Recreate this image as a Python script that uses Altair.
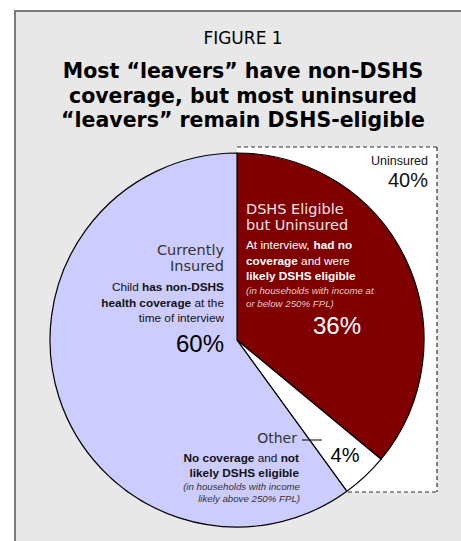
import altair as alt
import pandas as pd

# ---- data ----
categories = ["DSHS Eligible but Uninsured", "Other", "Currently Insured"]
shares = [36, 4, 60]
slice_colors = ["#800000", "#FFFFFF", "#CCCCFF"]

figure_label = "FIGURE 1"
title_lines = [
    "Most \u201cleavers\u201d have non-DSHS",
    "coverage, but most uninsured",
    "\u201cleavers\u201d remain DSHS-eligible",
]
uninsured_label = "Uninsured"
dshs_head = ["DSHS Eligible", "but Uninsured"]
# (text, bold?) segments per line
dshs_body = [
    [("At interview,", False), ("had no", True)],
    [("coverage", True), ("and were", False)],
    [("likely DSHS eligible", True)],
]
dshs_note = ["(in households with income at", "or below 250% FPL)"]
ins_head = ["Currently", "Insured"]
ins_body = [
    [("Child", False), ("has non-DSHS", True)],
    [("health coverage", True), ("at the", False)],
    [("time of interview", False)],
]
other_head = "Other"
other_body = [
    [("No coverage", True), ("and", False), ("not", True)],
    [("likely DSHS eligible", True)],
]
other_note = ["(in households with income", "likely above 250% FPL)"]

pie_df = pd.DataFrame({"cat": categories, "value": shares, "ord": [0, 1, 2]})
ONE = pd.DataFrame({"_": [0]})

WIDE = "DejaVu Sans"
NARROW = "Liberation Sans"
BODY = 11.8
NOTE = 9.7
PCT = 24

# Arial / Liberation Sans advance widths (per 1000 em) for measuring segments
REG = {" ": 278, ",": 278, "-": 333, "A": 667, "C": 722, "D": 722, "H": 722, "N": 722,
       "S": 667, "a": 556, "b": 556, "c": 500, "d": 556, "e": 556, "f": 278, "g": 556,
       "h": 556, "i": 222, "k": 500, "l": 222, "m": 833, "n": 556, "o": 556, "r": 333,
       "s": 500, "t": 278, "u": 556, "v": 500, "w": 722, "y": 500}
BLD = {" ": 278, ",": 278, "-": 333, "A": 722, "C": 722, "D": 722, "H": 722, "N": 722,
       "S": 667, "a": 556, "b": 611, "c": 556, "d": 611, "e": 556, "f": 333, "g": 611,
       "h": 611, "i": 278, "k": 556, "l": 278, "m": 889, "n": 611, "o": 611, "r": 389,
       "s": 556, "t": 333, "u": 611, "v": 556, "w": 778, "y": 556}


def width(s, bold, size):
    table = BLD if bold else REG
    return sum(table.get(ch, 556) for ch in s) * size / 1000.0


def txt(s, x, y, size=BODY, font=NARROW, weight="normal", style="normal",
        color="black", align="left"):
    return alt.Chart(ONE).mark_text(
        text=s, font=font, fontSize=size, fontWeight=weight, fontStyle=style,
        color=color, align=align, baseline="alphabetic"
    ).encode(x=alt.value(x), y=alt.value(y))


def rich(segs, x, y, align, color, size=BODY):
    gap = width(" ", False, size)
    total = sum(width(s, b, size) for s, b in segs) + gap * (len(segs) - 1)
    cur = x - total if align == "right" else x
    out = []
    for s, b in segs:
        out.append(txt(s, cur, y, size=size, weight="bold" if b else "normal", color=color))
        cur += width(s, b, size) + gap
    return out


def box(x, x2, y, y2, **kw):
    return alt.Chart(ONE).mark_rect(**kw).encode(
        x=alt.value(x), x2=alt.value(x2), y=alt.value(y), y2=alt.value(y2))


def rule(x, x2, y, y2, **kw):
    return alt.Chart(ONE).mark_rule(**kw).encode(
        x=alt.value(x), x2=alt.value(x2), y=alt.value(y), y2=alt.value(y2))


CX, CY, R = 237, 340, 187

layers = []
# panel
layers.append(box(15, 480, 11, 560, fill="#E8E8E8", stroke="#7A7A7A", strokeWidth=2))
# white box behind uninsured part
layers.append(box(237, 437, 147, 492, fill="#FFFFFF"))
# pie
layers.append(
    alt.Chart(pie_df).mark_arc(radius=R, stroke="black", strokeWidth=1.2).encode(
        theta=alt.Theta("value:Q", stack=True),
        color=alt.Color("cat:N", scale=alt.Scale(domain=categories, range=slice_colors), legend=None),
        order=alt.Order("ord:Q"),
        x=alt.value(CX), y=alt.value(CY),
    )
)
# dashed box
for a in [(237, 437, 147, 147), (437, 437, 147, 492), (348, 437, 492, 492)]:
    layers.append(rule(*a, color="#333333", strokeWidth=1.2, strokeDash=[4, 3]))
# leader line for Other
layers.append(rule(302, 322, 440, 440, color="black", strokeWidth=1))

# title
layers.append(txt(figure_label, 243, 44, size=17, font=WIDE, align="center"))
for i, line in enumerate(title_lines):
    layers.append(txt(line, 243, 78 + 24.5 * i, size=20.5, font=WIDE, weight="bold", align="center"))

# uninsured
layers.append(txt(uninsured_label, 428, 165, size=12.5, align="right", color="#111111"))
layers.append(txt(f"{shares[0] + shares[1]}%", 428, 187, size=20, align="right", color="#111111"))

# DSHS eligible slice
layers.append(txt(dshs_head[0], 246, 214, size=14.5, font=WIDE, color="#F2E4E4"))
layers.append(txt(dshs_head[1], 246, 230, size=14.5, font=WIDE, color="#F2E4E4"))
for i, segs in enumerate(dshs_body):
    layers += rich(segs, 246, 249 + 15.5 * i, "left", "white")
layers.append(txt(dshs_note[0], 246, 294, size=NOTE, style="italic", color="#E8C8C8"))
layers.append(txt(dshs_note[1], 246, 307, size=NOTE, style="italic", color="#E8C8C8"))
layers.append(txt(f"{shares[0]}%", 337, 334, size=PCT, align="center", color="white"))

# currently insured
layers.append(txt(ins_head[0], 224, 255, size=14.5, font=WIDE, align="right", color="#333333"))
layers.append(txt(ins_head[1], 224, 271, size=14.5, font=WIDE, align="right", color="#333333"))
for i, segs in enumerate(ins_body):
    layers += rich(segs, 224, 291 + 15.5 * i, "right", "#111111")
layers.append(txt(f"{shares[2]}%", 224, 352, size=PCT, align="right"))

# other
layers.append(txt(other_head, 297, 443, size=14, font=WIDE, align="right", color="#333333"))
for i, segs in enumerate(other_body):
    layers += rich(segs, 299, 462 + 15 * i, "right", "#111111")
layers.append(txt(other_note[0], 300, 490, size=NOTE, style="italic", color="#333333", align="right"))
layers.append(txt(other_note[1], 300, 502, size=NOTE, style="italic", color="#333333", align="right"))
layers.append(txt(f"{shares[1]}%", 345, 462, size=20, align="center"))

chart = alt.layer(*layers).properties(
    width=461, height=541, padding=0, autosize="none", background="white"
).configure_view(stroke=None)

chart.save("out.html", embed_options={"renderer": "svg", "actions": False})
